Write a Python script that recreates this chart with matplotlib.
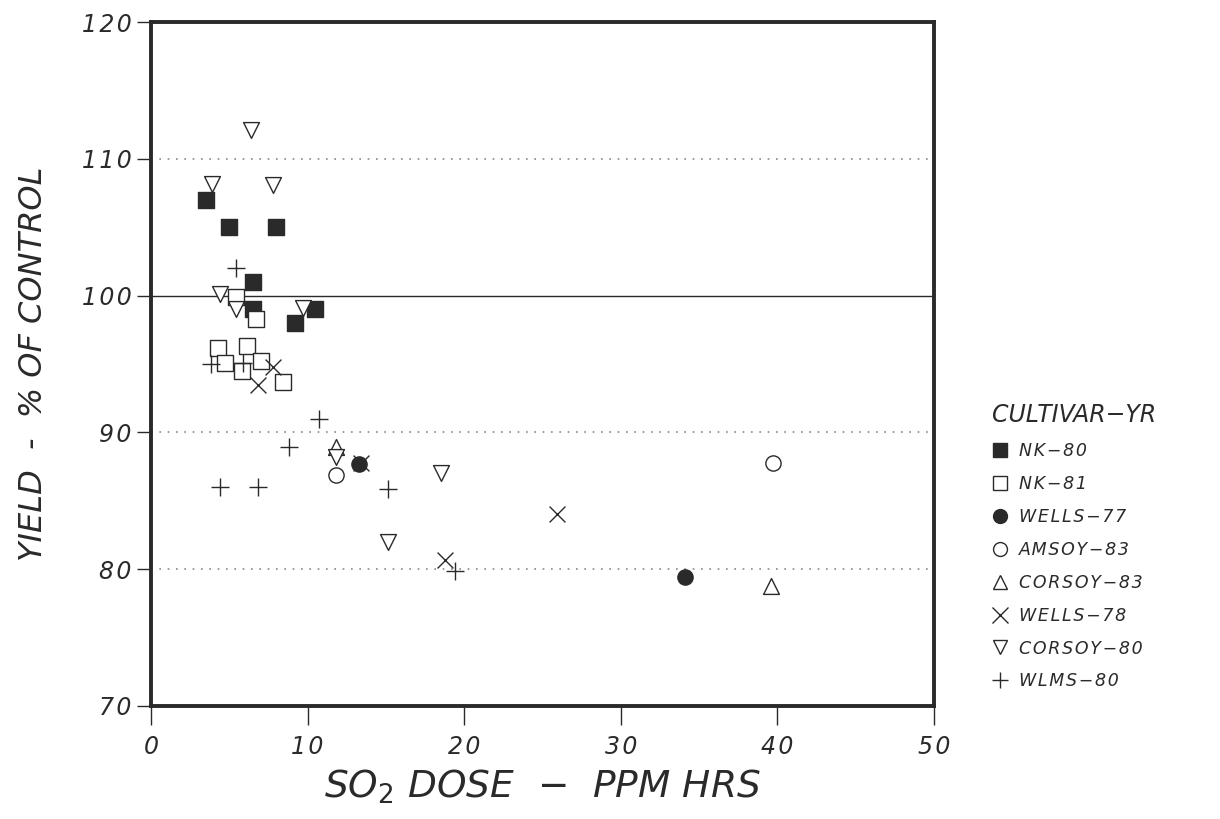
import matplotlib
matplotlib.use("Agg")
import matplotlib.pyplot as plt
from matplotlib.lines import Line2D

# series values (SO2 dose in ppm hrs, yield % of control)
nk80_x = [3.5, 5.0, 8.0, 6.5, 6.5, 9.2, 10.5]
nk80_y = [107, 105, 105, 101, 99, 98, 99]
nk81_x = [5.4, 6.7, 4.3, 6.1, 4.7, 5.8, 7.0, 8.4]
nk81_y = [99.9, 98.3, 96.2, 96.3, 95.1, 94.5, 95.2, 93.7]
wells77_x = [13.3, 34.1]
wells77_y = [87.7, 79.4]
amsoy83_x = [11.8, 39.7]
amsoy83_y = [86.9, 87.8]
corsoy83_x = [11.8, 39.6]
corsoy83_y = [88.9, 78.8]
wells78_x = [7.8, 6.8, 18.8, 25.9, 13.4]
wells78_y = [94.8, 93.5, 80.7, 84.0, 87.8]
corsoy80_x = [6.4, 3.9, 7.8, 4.4, 5.4, 9.7, 11.8, 18.5, 15.1]
corsoy80_y = [112.1, 108.2, 108.1, 100.1, 99.0, 99.1, 88.2, 87.0, 82.0]
wlms80_x = [5.4, 3.8, 5.9, 10.7, 8.8, 4.4, 6.8, 15.1, 19.4]
wlms80_y = [102, 95.0, 95.1, 91.0, 88.9, 86.0, 86.0, 85.9, 79.9]

labels = ["NK-80", "NK-81", "WELLS-77", "AMSOY-83",
          "CORSOY-83", "WELLS-78", "CORSOY-80", "WLMS-80"]
xticks = [0, 10, 20, 30, 40, 50]
yticks = [70, 80, 90, 100, 110, 120]
dotted_levels = [80, 90, 110]

ink = "#2a2a2a"
font = "DejaVu Sans"


def spaced(s):
    # plotter lettering is widely spaced: put a hair space between letters
    s = s.replace("-", "\u2212")
    return "\u200a".join(s)


fig = plt.figure(figsize=(12.2, 8.19), dpi=100)
ax = fig.add_axes([0.1238, 0.138, 0.6418, 0.835])

styles = [
    dict(marker="s", s=120, facecolor=ink, edgecolor=ink),
    dict(marker="s", s=120, facecolor="white", edgecolor=ink),
    dict(marker="o", s=120, facecolor=ink, edgecolor=ink),
    dict(marker="o", s=120, facecolor="white", edgecolor=ink),
    dict(marker="^", s=130, facecolor="white", edgecolor=ink),
    dict(marker="x", s=130, color=ink),
    dict(marker="v", s=130, facecolor="white", edgecolor=ink),
    dict(marker="+", s=170, color=ink),
]
series = [(nk80_x, nk80_y), (nk81_x, nk81_y), (wells77_x, wells77_y),
          (amsoy83_x, amsoy83_y), (corsoy83_x, corsoy83_y),
          (wells78_x, wells78_y), (corsoy80_x, corsoy80_y),
          (wlms80_x, wlms80_y)]

for lev in dotted_levels:
    ax.axhline(lev, color="#888888", lw=1.2, ls=(0, (1, 4)), zorder=1)
ax.axhline(100, color=ink, lw=1.0, zorder=1)

order = [7, 5, 6, 4, 3, 1, 0, 2]
for i in order:
    xs, ys = series[i]
    ax.scatter(xs, ys, linewidths=1.0, zorder=3 + i, **styles[i])

ax.set_xlim(0, 50)
ax.set_ylim(70, 120)
ax.set_xticks(xticks)
ax.set_yticks(yticks)
ax.set_xticklabels([spaced(str(t)) for t in xticks], fontsize=17,
                   style="italic", family=font, color=ink)
ax.set_yticklabels([spaced(str(t)) for t in yticks], fontsize=17,
                   style="italic", family=font, color=ink)
ax.tick_params(axis="x", direction="out", length=14, width=1, color=ink, pad=7)
ax.tick_params(axis="y", direction="out", length=10, width=1, color=ink, pad=4)
for sp in ax.spines.values():
    sp.set_linewidth(2.8)
    sp.set_color(ink)

ax.set_xlabel(r"SO$_2$ DOSE  $-$  PPM HRS", fontsize=27, style="italic",
              family=font, color=ink, labelpad=6)
ax.set_ylabel("YIELD  -  % OF CONTROL", fontsize=23, style="italic",
              family=font, color=ink, labelpad=24)

handles = []
for i, lab in enumerate(labels):
    st = styles[i]
    if st["marker"] in ("x", "+"):
        h = Line2D([], [], ls="none", marker=st["marker"], markersize=11,
                   color=ink, markeredgewidth=1.0)
    else:
        h = Line2D([], [], ls="none", marker=st["marker"], markersize=10,
                   markerfacecolor=st["facecolor"], markeredgecolor=ink,
                   markeredgewidth=1.0)
    handles.append(h)

leg = fig.legend(handles, [spaced(l) for l in labels], loc="upper left",
                 bbox_to_anchor=(0.8, 0.527), frameon=False,
                 prop=dict(family=font, style="italic", size=12.5),
                 labelspacing=0.86, handletextpad=0.6, handlelength=1.0,
                 title="CULTIVAR\u2212YR",
                 title_fontproperties=dict(family=font, style="italic", size=17))
for t in leg.get_texts():
    t.set_color(ink)
leg.get_title().set_color(ink)
leg._legend_box.align = "left"

fig.savefig("out.png", dpi=100)
